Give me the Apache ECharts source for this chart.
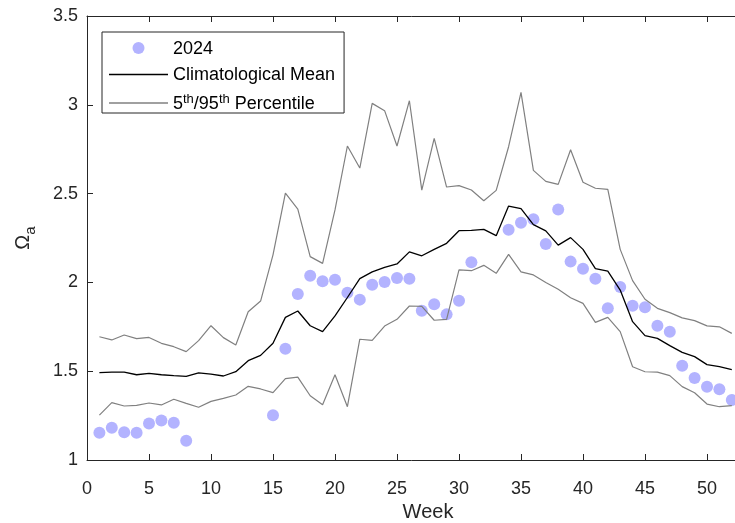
<!DOCTYPE html>
<html lang="en">
<head>
    <meta charset="UTF-8">
    <title>Omega a - weekly</title>
    <script src="https://cdn.jsdelivr.net/npm/echarts@6/dist/echarts.min.js"></script>
    <style>
        html, body { margin: 0; padding: 0; background: #fff; }
        #main { width: 735px; height: 523px; }
    </style>
</head>
<body>
<div id="main"></div>
<script type="text/javascript">
    // 2024 weekly values (gaps are missing weeks)
    var dotWeeks = [1, 2, 3, 4, 5, 6, 7, 8,
        15, 16, 17, 18, 19, 20, 21, 22, 23, 24, 25, 26, 27, 28, 29, 30, 31,
        34, 35, 36, 37, 38, 39, 40, 41, 42, 43, 44, 45, 46, 47, 48, 49, 50, 51, 52];
    var dotVals = [1.154, 1.182, 1.156, 1.154, 1.206, 1.223, 1.21, 1.109,
        1.252, 1.627, 1.935, 2.038, 2.006, 2.015, 1.942, 1.903, 1.987, 2.002, 2.025, 2.02, 1.84, 1.877, 1.82, 1.897, 2.113,
        2.297, 2.336, 2.355, 2.216, 2.41, 2.117, 2.077, 2.02, 1.854, 1.974, 1.869, 1.86, 1.756, 1.722, 1.531, 1.462, 1.413, 1.398, 1.338];

    // climatology, weeks 1..52
    var meanVals = [1.492, 1.495, 1.495, 1.48, 1.488, 1.48, 1.475, 1.471, 1.49, 1.483,
        1.473, 1.497, 1.559, 1.589, 1.657, 1.803, 1.839, 1.756, 1.723, 1.811,
        1.915, 2.021, 2.059, 2.085, 2.104, 2.172, 2.15, 2.186, 2.22, 2.291,
        2.293, 2.299, 2.263, 2.43, 2.415, 2.325, 2.29, 2.21, 2.252, 2.186,
        2.077, 2.064, 1.957, 1.779, 1.70, 1.685, 1.644, 1.606, 1.582, 1.537,
        1.526, 1.509];
    var upperVals = [1.694, 1.676, 1.704, 1.683, 1.69, 1.657, 1.638, 1.61, 1.672, 1.756,
        1.689, 1.648, 1.835, 1.895, 2.155, 2.503, 2.413, 2.145, 2.107, 2.408,
        2.768, 2.644, 3.008, 2.967, 2.768, 3.023, 2.52, 2.811, 2.537, 2.545,
        2.52, 2.46, 2.518, 2.764, 3.07, 2.631, 2.569, 2.552, 2.747, 2.564,
        2.53, 2.524, 2.186, 2.01, 1.905, 1.854, 1.83, 1.80, 1.785, 1.755,
        1.75, 1.713];
    var lowerVals = [1.253, 1.323, 1.304, 1.308, 1.321, 1.31, 1.342, 1.319, 1.297, 1.33,
        1.347, 1.366, 1.415, 1.40, 1.379, 1.458, 1.467, 1.362, 1.311, 1.48,
        1.30, 1.68, 1.674, 1.754, 1.792, 1.867, 1.865, 1.787, 1.792, 2.07,
        2.066, 2.096, 2.051, 2.158, 2.059, 2.042, 2.0, 1.961, 1.914, 1.882,
        1.775, 1.803, 1.723, 1.525, 1.497, 1.495, 1.475, 1.413, 1.379, 1.315,
        1.30, 1.306];

    var FONT = 'Liberation Sans, Arial, Helvetica, sans-serif';
    var AXIS_COLOR = '#262626';
    // thin bar used as legend icon for the lines
    var LINE_ICON = 'path://M0,0 L60,0 L60,1.3 L0,1.3 Z';

    function pairs(xs, ys) {
        var out = [];
        for (var i = 0; i < ys.length; i++) {
            out.push([xs ? xs[i] : i + 1, ys[i]]);
        }
        return out;
    }

    var myChart = echarts.init(document.getElementById('main'), null, {renderer: 'canvas'});

    var option = {
        animation: false,
        backgroundColor: '#fff',
        textStyle: {fontFamily: FONT},
        grid: {left: 87, top: 16, bottom: 63, right: -34, containLabel: false, outerBoundsMode: 'none'},
        legend: {
            orient: 'vertical',
            left: 102,
            top: 32,
            padding: [8, 9, 0, 7],
            itemGap: 8.5,
            itemWidth: 59,
            itemHeight: 12,
            symbolKeepAspect: true,
            borderColor: AXIS_COLOR,
            borderWidth: 1,
            backgroundColor: '#fff',
            data: [
                {name: '2024', icon: 'circle'},
                {name: 'Climatological Mean', icon: LINE_ICON, itemStyle: {color: '#000'}},
                {name: '5th/95th Percentile', icon: LINE_ICON, itemStyle: {color: '#808080'}}
            ],
            formatter: function (name) {
                if (name === '5th/95th Percentile') {
                    return '{n|5}{sup|th}{n|/95}{sup|th}{n| Percentile}';
                }
                return '{n|' + name + '}';
            },
            textStyle: {
                fontFamily: FONT,
                fontSize: 18,
                color: '#000',
                rich: {
                    n: {fontFamily: FONT, fontSize: 18, color: '#000', lineHeight: 20, verticalAlign: 'bottom'},
                    sup: {fontFamily: FONT, fontSize: 13, color: '#000', lineHeight: 20, verticalAlign: 'top'}
                }
            }
        },
        xAxis: [{
            type: 'value',
            min: 0,
            max: 55,
            interval: 5,
            name: 'Week',
            nameLocation: 'middle',
            nameGap: 42,
            nameTextStyle: {fontFamily: FONT, fontSize: 20, color: AXIS_COLOR},
            axisLine: {show: true, onZero: false, lineStyle: {color: AXIS_COLOR, width: 1}},
            axisTick: {show: true, inside: true, length: 6, lineStyle: {color: AXIS_COLOR}},
            axisLabel: {fontFamily: FONT, fontSize: 18, color: AXIS_COLOR, margin: 20},
            splitLine: {show: false}
        }, {
            type: 'value',
            position: 'top',
            min: 0,
            max: 55,
            interval: 5,
            axisLine: {show: true, onZero: false, lineStyle: {color: AXIS_COLOR, width: 1}},
            axisTick: {show: true, inside: true, length: 6, lineStyle: {color: AXIS_COLOR}},
            axisLabel: {show: false},
            splitLine: {show: false}
        }],
        yAxis: {
            type: 'value',
            min: 1,
            max: 3.5,
            interval: 0.5,
            name: '{o|\u03A9}{s|a}',
            nameLocation: 'middle',
            nameRotate: 90,
            nameGap: 48.5,
            nameTextStyle: {
                rich: {
                    o: {fontFamily: FONT, fontSize: 20, color: AXIS_COLOR, lineHeight: 20, verticalAlign: 'top'},
                    s: {fontFamily: FONT, fontSize: 15, color: AXIS_COLOR, lineHeight: 25, verticalAlign: 'bottom'}
                }
            },
            axisLine: {show: true, onZero: false, lineStyle: {color: AXIS_COLOR, width: 1}},
            axisTick: {show: true, inside: true, length: 6, lineStyle: {color: AXIS_COLOR}},
            axisLabel: {fontFamily: FONT, fontSize: 18, color: AXIS_COLOR, margin: 9},
            splitLine: {show: false}
        },
        series: [
            {
                name: '2024',
                type: 'scatter',
                symbol: 'circle',
                symbolSize: 12,
                itemStyle: {color: '#b3b3ff', opacity: 1},
                z: 1,
                data: pairs(dotWeeks, dotVals)
            },
            {
                name: 'Climatological Mean',
                type: 'line',
                symbol: 'none',
                lineStyle: {color: '#000', width: 1.3},
                itemStyle: {color: '#000'},
                z: 3,
                data: pairs(null, meanVals)
            },
            {
                name: '5th/95th Percentile',
                type: 'line',
                symbol: 'none',
                lineStyle: {color: '#808080', width: 1.2},
                itemStyle: {color: '#808080'},
                z: 2,
                data: pairs(null, upperVals)
            },
            {
                name: '5th/95th Percentile',
                type: 'line',
                symbol: 'none',
                lineStyle: {color: '#808080', width: 1.2},
                itemStyle: {color: '#808080'},
                z: 2,
                data: pairs(null, lowerVals)
            }
        ]
    };

    myChart.setOption(option);
</script>
</body>
</html>
